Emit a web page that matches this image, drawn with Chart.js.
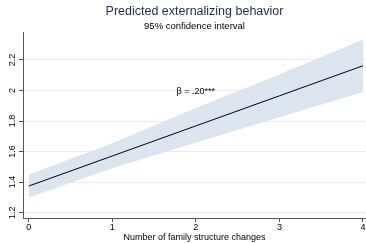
<!DOCTYPE html>
<html>
<head>
<meta charset="utf-8">
<script src="https://cdn.jsdelivr.net/npm/chart.js@4.4.0/dist/chart.umd.min.js"></script>
<style>
  html, body { margin: 0; padding: 0; background: #fff; }
  #wrap { width: 366px; height: 243px; }
</style>
</head>
<body>
<div id="wrap"><canvas id="chart" width="366" height="243"></canvas></div>
<script>
// number of family structure changes
const changes = [0, 1, 2, 3, 4];
// predicted externalizing behavior and 95% CI bounds
const predicted = [1.374, 1.571, 1.768, 1.965, 2.162];
const upperCI = [1.45, 1.655, 1.885, 2.105, 2.333];
const lowerCI = [1.30, 1.49, 1.66, 1.825, 1.99];
const yTicks = [1.2, 1.4, 1.6, 1.8, 2, 2.2];
const xTicks = [0, 1, 2, 3, 4];
const note = { x: 2, y: 1.99, text: 'β = .20***' };

const FONT = "'Liberation Sans', Arial, sans-serif";
const toPoints = vals => changes.map((c, i) => ({ x: c, y: vals[i] }));

// writes the coefficient note inside the plot
const notePlugin = {
  id: 'note',
  afterDatasetsDraw(chart) {
    const ctx = chart.ctx;
    const px = chart.scales.x.getPixelForValue(note.x);
    const py = chart.scales.y.getPixelForValue(note.y);
    ctx.save();
    ctx.font = '9px ' + FONT;
    ctx.fillStyle = '#000';
    ctx.textAlign = 'center';
    ctx.textBaseline = 'middle';
    ctx.fillText(note.text, px, py);
    ctx.restore();
  }
};

new Chart(document.getElementById('chart'), {
  type: 'line',
  data: {
    datasets: [
      {
        data: toPoints(predicted),
        borderColor: '#000',
        borderWidth: 1,
        pointRadius: 0,
        fill: false
      },
      {
        data: toPoints(upperCI),
        borderWidth: 0,
        borderColor: 'rgba(0,0,0,0)',
        backgroundColor: '#dce4ef',
        pointRadius: 0,
        fill: '+1'
      },
      {
        data: toPoints(lowerCI),
        borderWidth: 0,
        borderColor: 'rgba(0,0,0,0)',
        pointRadius: 0,
        fill: false
      }
    ]
  },
  options: {
    responsive: false,
    animation: false,
    layout: { padding: 0 },
    plugins: {
      legend: { display: false },
      tooltip: { enabled: false },
      title: {
        display: true,
        text: 'Predicted externalizing behavior',
        color: '#1f2d50',
        fullSize: false,
        font: { family: FONT, size: 12.5, weight: 'normal' },
        padding: { top: 4, bottom: 2 }
      },
      subtitle: {
        display: true,
        text: '95% confidence interval',
        color: '#000',
        fullSize: false,
        font: { family: FONT, size: 9.5, weight: 'normal' },
        padding: { top: 0, bottom: 0.5 }
      }
    },
    scales: {
      x: {
        type: 'linear',
        min: -0.068,
        max: 4.036,
        afterBuildTicks: s => { s.ticks = xTicks.map(v => ({ value: v })); },
        afterFit: s => { s.height = 25; },
        grid: { drawOnChartArea: false, drawTicks: true, tickLength: 4, tickColor: '#555' },
        border: { display: true, color: '#555', width: 1 },
        ticks: {
          color: '#000',
          padding: 0,
          maxRotation: 0,
          font: { family: FONT, size: 9 },
          callback: v => String(v)
        },
        title: {
          display: true,
          text: 'Number of family structure changes',
          color: '#000',
          padding: { top: 0, bottom: 0 },
          font: { family: FONT, size: 9 }
        }
      },
      y: {
        type: 'linear',
        min: 1.165,
        max: 2.377,
        afterBuildTicks: s => { s.ticks = yTicks.map(v => ({ value: v })); },
        afterFit: s => { s.width = 23; },
        grid: { color: '#ececec', lineWidth: 1, drawTicks: true, tickLength: 4, tickColor: '#555' },
        border: { display: true, color: '#555', width: 1 },
        ticks: {
          color: '#000',
          padding: 0,
          minRotation: 90,
          maxRotation: 90,
          crossAlign: 'center',
          font: { family: FONT, size: 9 },
          callback: v => String(+v.toFixed(1))
        }
      }
    }
  },
  plugins: [notePlugin]
});
</script>
</body>
</html>
